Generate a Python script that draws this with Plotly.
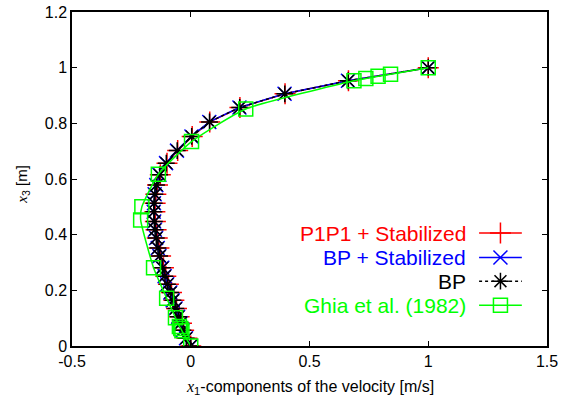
import plotly.graph_objects as go

# ---------------- data ----------------
sim_y = [0, 0.028, 0.057, 0.082, 0.105, 0.135, 0.164, 0.192, 0.222, 0.251, 0.281,
         0.323, 0.352, 0.388, 0.418, 0.447, 0.482, 0.513, 0.545, 0.578, 0.615,
         0.657, 0.702, 0.753, 0.805, 0.857, 0.906, 0.953, 1.0]
p1p1_stab_u = [0, -0.016, -0.030, -0.039, -0.049, -0.060, -0.071, -0.081, -0.094, -0.105,
               -0.115, -0.127, -0.134, -0.141, -0.146, -0.149, -0.151, -0.150, -0.147,
               -0.140, -0.128, -0.100, -0.055, 0.006, 0.080, 0.207, 0.397, 0.664, 1.0]
bp_stab_u = [0, -0.020, -0.034, -0.043, -0.053, -0.064, -0.076, -0.086, -0.099, -0.110,
             -0.120, -0.132, -0.139, -0.146, -0.151, -0.154, -0.156, -0.155, -0.152,
             -0.145, -0.132, -0.104, -0.058, 0.003, 0.078, 0.205, 0.395, 0.662, 1.0]
bp_u = [0, -0.019, -0.033, -0.042, -0.052, -0.063, -0.075, -0.085, -0.098, -0.109,
        -0.119, -0.131, -0.138, -0.145, -0.150, -0.153, -0.155, -0.154, -0.151,
        -0.144, -0.131, -0.103, -0.057, 0.004, 0.079, 0.206, 0.396, 0.663, 1.0]

ghia_y = [0.0, 0.0547, 0.0625, 0.0703, 0.1016, 0.1719, 0.2813, 0.4531, 0.5,
          0.6172, 0.7344, 0.8516, 0.9531, 0.9609, 0.9688, 0.9766, 1.0]
ghia_u = [0.0, -0.03717, -0.04192, -0.04775, -0.06434, -0.1015, -0.15662, -0.2109,
          -0.20581, -0.13641, 0.00332, 0.23151, 0.68717, 0.73722, 0.78871, 0.84123, 1.0]

series_names = ["P1P1 + Stabilized", "BP + Stabilized", "BP", "Ghia et al. (1982)"]

x_tickvals = [-0.5, 0, 0.5, 1, 1.5]
x_ticktext = ["-0.5", "0", "0.5", "1", "1.5"]
y_tickvals = [0, 0.2, 0.4, 0.6, 0.8, 1.0, 1.2]
y_ticktext = ["0", "0.2", "0.4", "0.6", "0.8", "1", "1.2"]

x_title = "<span style=\"font-family:'Liberation Serif';font-style:italic\">x</span><sub>1</sub>-components of the velocity [m/s]"
y_title = "<span style=\"font-family:'Liberation Serif';font-style:italic\">x</span><sub>3</sub> [m]"

# ---------------- styles ----------------
RED, BLUE, BLACK, GREEN = "#ff0000", "#0000ff", "#000000", "#00ff00"
FONT = "Liberation Sans, Arial, sans-serif"

styles = [
    dict(color=RED, dash="solid", symbol="cross-thin-open", size=15),
    dict(color=BLUE, dash="solid", symbol="x-thin-open", size=14),
    dict(color=BLACK, dash="dot", symbol="asterisk-open", size=14),
    dict(color=GREEN, dash="solid", symbol="square-open", size=14),
]
data_x = [p1p1_stab_u, bp_stab_u, bp_u, ghia_u]
data_y = [sim_y, sim_y, sim_y, ghia_y]

fig = go.Figure()
for i, (xs, ys, st) in enumerate(zip(data_x, data_y, styles)):
    fig.add_trace(go.Scatter(
        x=xs, y=ys, mode="lines+markers", name=series_names[i], showlegend=False,
        line=dict(color=st["color"], width=1.5, dash=st["dash"],
                  shape="spline" if i == 3 else "linear", smoothing=0.5),
        marker=dict(symbol=st["symbol"], size=st["size"], color=st["color"],
                    line=dict(color=st["color"], width=1.5)),
    ))

# ---------------- gnuplot-style key (text right, sample at right) ----------------
key_rows_y = [0.338, 0.265, 0.194, 0.122]
key_text_x = 0.834
key_line_x = [0.857, 0.947]
key_mark_x = 0.902
for i, st in enumerate(styles):
    yy = key_rows_y[i]
    fig.add_annotation(x=key_text_x, y=yy, xref="paper", yref="paper",
                       text=series_names[i], showarrow=False, xanchor="right",
                       yanchor="middle", font=dict(family=FONT, size=21, color=st["color"]))
    fig.add_trace(go.Scatter(
        x=[key_line_x[0], key_mark_x, key_line_x[1]], y=[yy, yy, yy],
        xaxis="x2", yaxis="y2", mode="lines", showlegend=False, hoverinfo="skip",
        line=dict(color=st["color"], width=1.5, dash=st["dash"])))
    fig.add_trace(go.Scatter(
        x=[key_mark_x], y=[yy], xaxis="x2", yaxis="y2", mode="markers",
        showlegend=False, hoverinfo="skip",
        marker=dict(symbol=st["symbol"], size=st["size"], color=st["color"],
                    line=dict(color=st["color"], width=1.5))))

# axis titles as annotations for exact placement
fig.add_annotation(x=0.5, y=-0.123, xref="paper", yref="paper", text=x_title,
                   showarrow=False, xanchor="center", yanchor="middle",
                   font=dict(family=FONT, size=16, color="black"))
fig.add_annotation(x=-0.106, y=0.485, xref="paper", yref="paper", text=y_title,
                   showarrow=False, xanchor="center", yanchor="middle", textangle=-90,
                   font=dict(family=FONT, size=15, color="black"))

axis_common = dict(showline=True, linecolor="black", linewidth=1.5, mirror="ticks",
                   ticks="inside", ticklen=5, tickwidth=1, tickcolor="black",
                   showgrid=False, zeroline=False, automargin=False,
                   tickfont=dict(family=FONT, size=16, color="black"))

fig.update_layout(
    width=566, height=401,
    margin=dict(l=72, r=19, t=12, b=55, autoexpand=False),
    paper_bgcolor="white", plot_bgcolor="white",
    font=dict(family=FONT, color="black"),
    showlegend=False,
    xaxis=dict(range=[-0.5, 1.5], tickvals=x_tickvals, ticktext=x_ticktext, **axis_common),
    yaxis=dict(range=[0, 1.2], tickvals=y_tickvals, ticktext=y_ticktext, **axis_common),
    xaxis2=dict(range=[0, 1], overlaying="x", visible=False, fixedrange=True),
    yaxis2=dict(range=[0, 1], overlaying="y", visible=False, fixedrange=True),
)

fig.write_html("out.html", config={"displayModeBar": False},
               post_script="document.body.style.margin='0';document.body.style.overflow='hidden';")
